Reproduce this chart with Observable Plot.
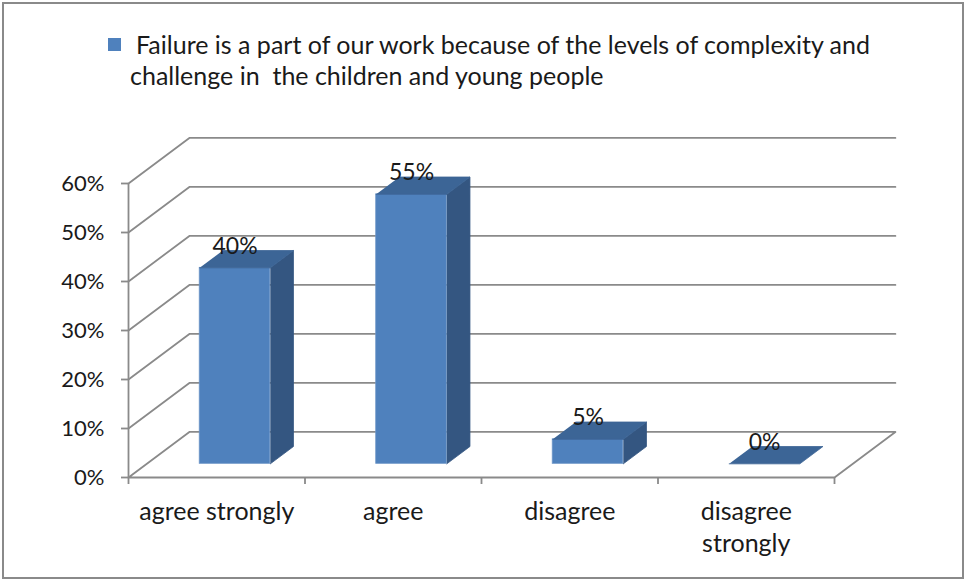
<!DOCTYPE html>
<html>
<head>
<meta charset="utf-8">
<script src="https://cdn.jsdelivr.net/npm/d3@7"></script>
<script src="https://cdn.jsdelivr.net/npm/@observablehq/plot@0.6"></script>
<style>
  body { margin: 0; background: #fff; }
  #wrap { position: relative; width: 965px; height: 581px; background: #fff; font-family: Lato, "Open Sans", sans-serif; color: #1a1a1a; }
  #frame { position: absolute; left: 2px; top: 2px; width: 962px; height: 577px; box-sizing: border-box; border: 2px solid #8a8a8a; pointer-events: none; }
  #legend { position: absolute; left: 0; top: 0; font-size: 25px; line-height: 30px; white-space: pre; }
  #legend .sw { position: absolute; left: 108px; top: 38px; width: 13px; height: 13px; background: #4F81BD; }
  #legend .l1 { position: absolute; left: 136px; top: 29px; }
  #legend .l2 { position: absolute; left: 130px; top: 60px; }
  #chart { position: absolute; left: 0; top: 0; }
</style>
</head>
<body>
<div id="wrap">
  <div id="chart"></div>
  <div id="legend"></div>
  <div id="frame"></div>
</div>
<script>
// ---- data ----
const seriesName = "Failure is a part of our work because of the levels of complexity and challenge in  the children and young people";
const legendLines = ["Failure is a part of our work because of the levels of complexity and", "challenge in  the children and young people"];
const categories = ["agree strongly", "agree", "disagree", "disagree\nstrongly"];
const values = [40, 55, 5, 0];
const yTicks = [0, 10, 20, 30, 40, 50, 60];

// ---- 3D geometry (in data units: categories along x, percent along y) ----
const DEPTH_X = 0.345;   // horizontal shift of full depth, in category units
const DEPTH_Y = 9.3;     // vertical shift of full depth, in percent units
const Z_FRONT = 0.30;    // bar front face depth
const Z_BACK = 0.68;     // bar back face depth
const BAR_W = 0.40;      // bar width in category units
const P = (c, v, z) => ({x: c + z * DEPTH_X, y: v + z * DEPTH_Y});

const nCat = categories.length;
const yMax = d3.max(yTicks);

// grid: for each tick, left diagonal + back wall line; floor is closed outline
const grid = [];
yTicks.forEach(v => {
  const pts = v === 0
    ? [P(nCat, 0, 0), P(0, 0, 0), P(0, 0, 1), P(nCat, 0, 1), P(nCat, 0, 0)]
    : [P(0, v, 0), P(0, v, 1), P(nCat, v, 1)];
  pts.forEach(p => grid.push({...p, id: v}));
});

// bars
const rows = values.map((v, i) => ({i, v, c: categories[i]}));
const fronts = rows.map(d => {
  const xl = d.i + 0.5 - BAR_W / 2;
  return {x1: P(xl, 0, Z_FRONT).x, x2: P(xl + BAR_W, 0, Z_FRONT).x, y1: P(0, 0, Z_FRONT).y, y2: P(0, d.v, Z_FRONT).y, v: d.v};
}).filter(d => d.v > 0);
const tops = [], sides = [];
rows.forEach(d => {
  const xl = d.i + 0.5 - BAR_W / 2, xr = xl + BAR_W;
  [P(xl, d.v, Z_FRONT), P(xr, d.v, Z_FRONT), P(xr, d.v, Z_BACK), P(xl, d.v, Z_BACK)].forEach(p => tops.push({...p, id: d.i}));
  if (d.v > 0) [P(xr, 0, Z_FRONT), P(xr, 0, Z_BACK), P(xr, d.v, Z_BACK), P(xr, d.v, Z_FRONT)].forEach(p => sides.push({...p, id: d.i}));
});

const gridColor = "#8a8a8a";
const plot = Plot.plot({
  width: 965,
  height: 581,
  marginLeft: 128,
  marginRight: 131,
  marginTop: 183,
  marginBottom: 104,
  style: {fontFamily: "Lato, 'Open Sans', sans-serif", background: "transparent", overflow: "visible"},
  x: {type: "linear", domain: [0, nCat], axis: null},
  y: {type: "linear", domain: [0, yMax], axis: null},
  marks: [
    Plot.line(grid, {x: "x", y: "y", z: "id", stroke: gridColor, strokeWidth: 1.8}),
    Plot.ruleX([0], {y1: 0, y2: yMax, stroke: gridColor, strokeWidth: 1.8}),
    Plot.axisY({ticks: yTicks, tickFormat: d => d + "%", tickSize: 7, tickPadding: 17, fontSize: 22, stroke: gridColor, strokeWidth: 1.8, fill: "#1a1a1a", label: null}),
    Plot.axisX({ticks: d3.range(nCat + 1), tickFormat: () => "", tickSize: 7, stroke: gridColor, strokeWidth: 1.8, label: null}),
    Plot.rect(fronts, {x1: "x1", x2: "x2", y1: "y1", y2: "y2", fill: "#4F81BD", stroke: "#6f97c8", strokeWidth: 0.8}),
    Plot.line(sides, {x: "x", y: "y", z: "id", fill: "#345681", stroke: "#345681", strokeWidth: 0.8}),
    Plot.line(tops, {x: "x", y: "y", z: "id", fill: "#3C6596", stroke: "#3C6596", strokeWidth: 0.8}),
    Plot.text(rows, {x: d => d.i + 0.5 + Z_FRONT * DEPTH_X, y: d => d.v + Z_BACK * DEPTH_Y, text: d => d.v + "%", lineAnchor: "bottom", dy: 3, fontSize: 23, fill: "#1a1a1a"}),
    Plot.text(rows, {x: d => d.i + 0.5, y: 0, text: "c", lineAnchor: "top", dy: 20, fontSize: 25, lineHeight: 1.28, fill: "#1a1a1a"})
  ]
});
document.getElementById("chart").appendChild(plot);

// legend
const lg = document.getElementById("legend");
lg.innerHTML = `<div class="sw"></div><div class="l1"></div><div class="l2"></div>`;
lg.querySelector(".l1").textContent = legendLines[0];
lg.querySelector(".l2").textContent = legendLines[1];
lg.setAttribute("title", seriesName);
</script>
</body>
</html>
